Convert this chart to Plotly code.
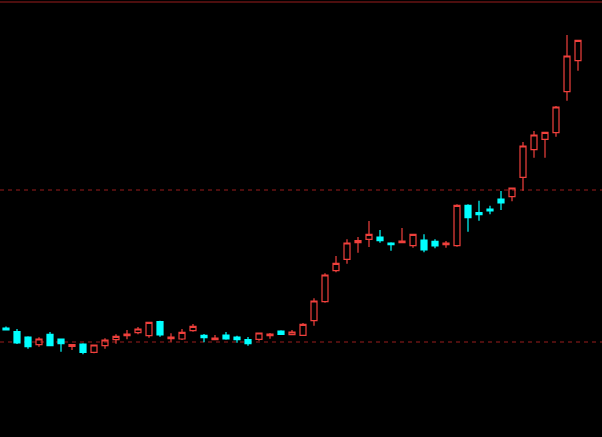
import plotly.graph_objects as go

idx = list(range(53))
opens = [109, 105.3, 100, 92.3, 102.7, 98, 90.5, 93, 84.7, 91.3,
         97.3, 101.3, 104.3, 101.3, 115.3, 98.3, 98, 106.3, 101.7, 97.3,
         102, 100, 97.3, 97.7, 101.3, 106, 102.3, 101.7, 116.3, 135.3,
         166.3, 177.7, 194.3, 197.7, 200, 194, 194.3, 191.3, 197, 195.7,
         192.3, 191.3, 231.7, 224.3, 228, 238, 240.3, 259.7, 287.3, 297.7,
         304.3, 345.3, 376.3]
closes = [107, 94, 90.3, 98, 91.3, 93.3, 92.5, 84.7, 92, 97,
          100.7, 103, 108, 114.7, 102, 100, 104.7, 110.7, 99.3, 99,
          98, 97.3, 93.3, 104, 103, 102.7, 105, 112.7, 136, 162,
          173.7, 194, 196.3, 202.7, 196.3, 192.3, 196, 202.7, 187, 191,
          194, 231.7, 219.3, 222.3, 226, 234, 249, 291, 302, 304.7,
          330, 381, 396.7]
highs = [110.5, 108, 100.7, 99.7, 105, 98, 92.5, 93.7, 92.5, 98.7,
         102.7, 107, 110, 115.3, 116.3, 103.7, 108, 113, 103, 102,
         105, 101.3, 100, 104, 104, 106.7, 107, 114, 138.7, 163.7,
         181, 197.7, 200, 216, 207, 194.7, 209, 203, 202.7, 197.7,
         196, 232.7, 232.7, 236.3, 231.3, 246, 249, 295, 306, 304.7,
         331, 402, 396.7]
lows = [106.5, 93, 88.3, 90.3, 91, 85.3, 87, 82.7, 83.7, 88.3,
        93.3, 97.7, 102.7, 99.3, 100.3, 95.3, 97, 105.3, 94.7, 97.3,
        97.3, 94.3, 91.3, 96.3, 98.3, 102, 101.7, 101.3, 111.3, 134.3,
        164.7, 173.3, 184.3, 190, 194.3, 186.3, 194.3, 189.3, 184.7, 188.7,
        189.3, 190.3, 205.3, 216.3, 222.7, 227, 235.7, 246.3, 279.3, 279.3,
        300.3, 336.3, 366.3]

dashed_levels = [95, 247]
top_level = 435

up_color = "#f0403c"
down_color = "#00ffff"
level_color = "#9a1c1c"

fig = go.Figure()
fig.add_trace(go.Candlestick(
    x=idx, open=opens, high=highs, low=lows, close=closes,
    increasing=dict(line=dict(color=up_color, width=1.2), fillcolor="rgba(0,0,0,0)"),
    decreasing=dict(line=dict(color=down_color, width=1.2), fillcolor=down_color),
    whiskerwidth=0, showlegend=False, hoverinfo="skip",
))

for lv in dashed_levels:
    fig.add_hline(y=lv, line=dict(color=level_color, width=1, dash="4px,4px"), layer="below")
fig.add_hline(y=top_level, line=dict(color=level_color, width=1), layer="below")

fig.update_layout(
    width=602, height=437,
    margin=dict(l=0, r=0, t=0, b=0),
    paper_bgcolor="black", plot_bgcolor="black",
    boxgap=0.22,
    xaxis=dict(range=[-6/11, -6/11 + 602/11], visible=False, rangeslider=dict(visible=False),
               showgrid=False, zeroline=False, fixedrange=True),
    yaxis=dict(range=[0, 437], visible=False, showgrid=False, zeroline=False, fixedrange=True),
)

fig.write_html("out.html", config={"displayModeBar": False},
               post_script="document.body.style.margin='0';document.body.style.background='black';document.body.style.overflow='hidden';")
